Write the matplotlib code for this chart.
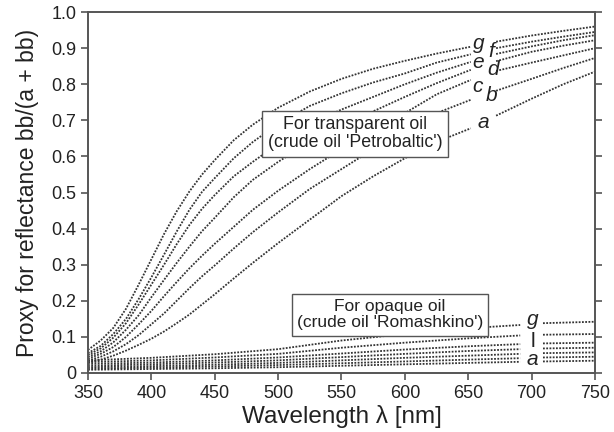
import numpy as np
import matplotlib
matplotlib.use("Agg")
import matplotlib.pyplot as plt

plt.rcParams["font.family"] = ["Liberation Sans", "DejaVu Sans"]

# ---------------- DATA ----------------
wl = np.array([350, 360, 370, 380, 390, 400, 410, 420, 430, 440, 450, 465,
               480, 500, 525, 550, 575, 600, 625, 652, 672, 700, 725, 750])

# transparent oil (Petrobaltic)
tr_g = [.064, .090, .125, .178, .245, .315, .385, .448, .503, .550, .590, .645,
        .688, .735, .780, .815, .843, .865, .885, .904, .918, .935, .948, .960]
tr_f = [.055, .075, .108, .150, .205, .265, .328, .392, .452, .502, .540, .595,
        .640, .690, .740, .775, .805, .830, .860, .883, .900, .918, .932, .945]
tr_e = [.050, .068, .098, .138, .190, .245, .300, .357, .410, .455, .493, .545,
        .585, .635, .690, .730, .765, .800, .832, .862, .884, .905, .922, .936]
tr_d = [.045, .060, .085, .120, .160, .210, .258, .305, .350, .393, .430, .487,
        .535, .585, .640, .685, .725, .765, .803, .840, .864, .890, .907, .922]
tr_c = [.040, .053, .072, .100, .135, .172, .213, .252, .290, .325, .358, .405,
        .452, .505, .565, .620, .670, .720, .772, .812, .837, .860, .880, .900]
tr_b = [.035, .045, .060, .080, .105, .135, .165, .200, .235, .268, .298, .345,
        .390, .445, .510, .565, .620, .670, .720, .757, .782, .815, .845, .873]
tr_a = [.030, .037, .048, .062, .078, .095, .115, .138, .162, .190, .218, .262,
        .305, .360, .425, .490, .545, .595, .640, .678, .713, .760, .800, .835]
transparent = [tr_a, tr_b, tr_c, tr_d, tr_e, tr_f, tr_g]

# opaque oil (Romashkino)
wl_op = np.array([350, 400, 450, 500, 550, 600, 650, 691, 709, 750])
op_g = [.035, .042, .052, .066, .090, .108, .124, .133, .138, .142]
op_f = [.030, .035, .043, .053, .070, .084, .096, .104, .106, .108]
op_e = [.025, .029, .035, .043, .054, .065, .074, .080, .082, .084]
op_d = [.020, .024, .029, .035, .044, .053, .061, .066, .068, .070]
op_c = [.016, .019, .023, .028, .035, .042, .048, .053, .055, .057]
op_b = [.012, .015, .018, .022, .027, .032, .037, .041, .043, .045]
op_a = [.009, .011, .013, .016, .020, .024, .028, .031, .032, .034]
opaque = [op_a, op_b, op_c, op_d, op_e, op_f, op_g]

# curve labels (letter, x, y)
tr_labels = [("g", 658.7, .913), ("f", 668.5, .890), ("e", 657.7, .860),
             ("d", 669.5, .841), ("c", 657.7, .793), ("b", 668.7, .770),
             ("a", 661.6, .695)]
op_labels = [("g", 700.8, .147), ("l", 700.8, .087), ("a", 700.8, .036)]

xticks = [350, 400, 450, 500, 550, 600, 650, 700, 750]
yticks = [0, .1, .2, .3, .4, .5, .6, .7, .8, .9, 1.0]
ytick_labels = ["0", "0.1", "0.2", "0.3", "0.4", "0.5", "0.6", "0.7", "0.8", "0.9", "1.0"]

# ---------------- PLOT ----------------
fig = plt.figure(figsize=(6.14, 4.32), dpi=100)
ax = fig.add_axes([0.1433, 0.1366, 0.8257, 0.8354])

line_kw = dict(color="#333333", lw=1.3, ls=(0, (1, 0.8)))

# break the curves where the letters sit
left = wl <= 652
right = wl >= 672
for ys in transparent:
    ys = np.array(ys)
    ax.plot(wl[left], ys[left], **line_kw)
    ax.plot(wl[right], ys[right], **line_kw)

left_op = wl_op <= 691
right_op = wl_op >= 709
for ys in opaque:
    ys = np.array(ys)
    ax.plot(wl_op[left_op], ys[left_op], **line_kw)
    ax.plot(wl_op[right_op], ys[right_op], **line_kw)

for s, x, y in tr_labels:
    ax.text(x, y, s, fontsize=15, style="italic", color="#222222",
            ha="center", va="center")
for s, x, y in op_labels:
    ax.text(x, y, s, fontsize=15, style="normal" if s == "l" else "italic",
            color="#222222", ha="center", va="center")

box_kw = dict(boxstyle="square,pad=0.3", fc="white", ec="#555555", lw=1.0)
ax.text(560.7, 0.663, "For transparent oil\n(crude oil 'Petrobaltic')",
        fontsize=12.8, ha="center", va="center", color="#222222",
        linespacing=1.1, bbox=box_kw)
ax.text(588.3, 0.161, "For opaque oil\n(crude oil 'Romashkino')",
        fontsize=12.5, ha="center", va="center", color="#222222",
        linespacing=1.1, bbox=box_kw)

ax.set_xlim(350, 750)
ax.set_ylim(0, 1.0)
ax.set_xticks(xticks)
ax.set_yticks(yticks)
ax.set_yticklabels(ytick_labels)
ax.tick_params(direction="out", length=5, width=1.2, colors="#555555",
               labelcolor="#222222", labelsize=13, right=True, top=False)
for sp in ax.spines.values():
    sp.set_color("#555555")
    sp.set_linewidth(1.4)

ax.set_xlabel("Wavelength λ [nm]", fontsize=17.5, color="#222222", labelpad=2)
ax.set_ylabel("Proxy for reflectance bb/(a + bb)", fontsize=16.5, color="#222222",
              labelpad=9)

fig.savefig("out.png", dpi=100)
